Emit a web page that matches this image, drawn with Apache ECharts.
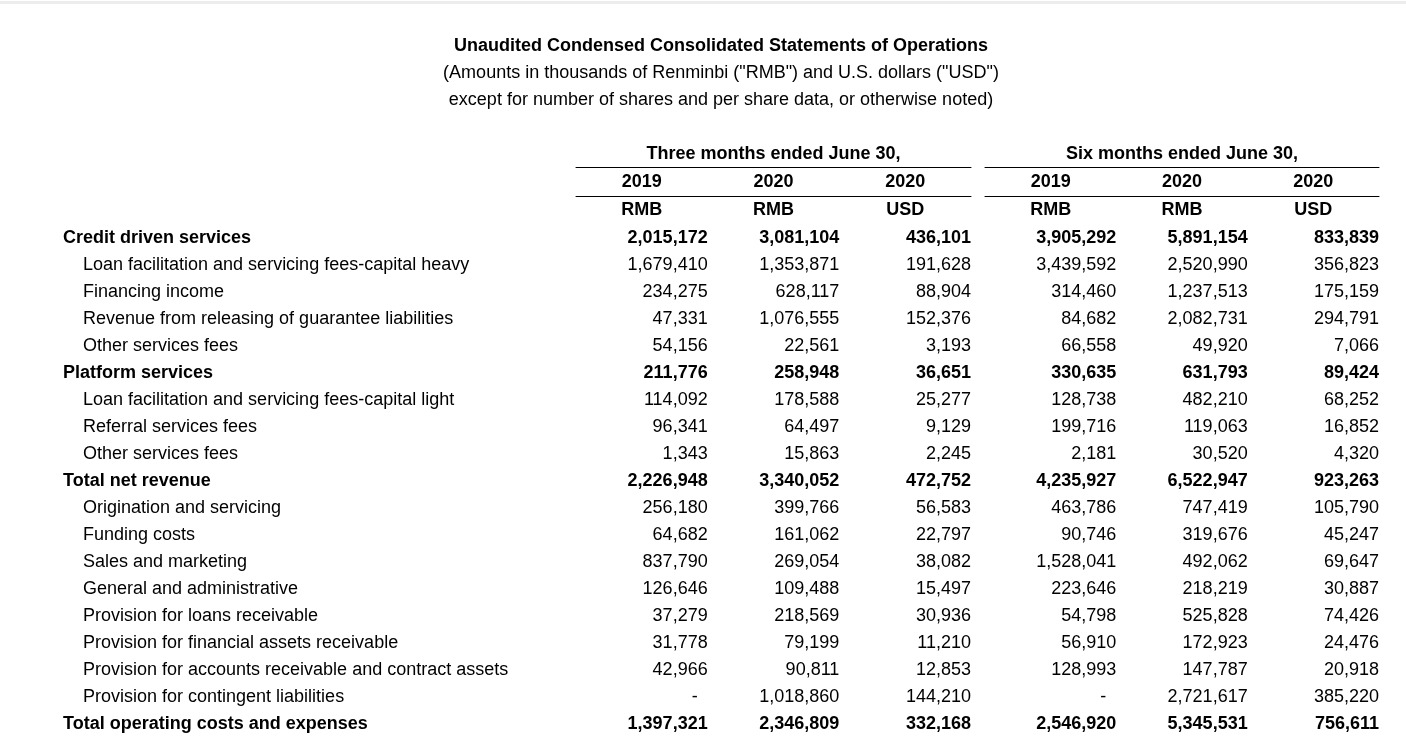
<!DOCTYPE html>
<html>
<head>
<meta charset="utf-8">
<script src="https://cdn.jsdelivr.net/npm/echarts@6/dist/echarts.min.js"></script>
<style>
html,body{margin:0;padding:0;background:#fff;}
#c{width:1406px;height:738px;}
</style>
</head>
<body>
<div id="c"></div>
<script>
// ---- data ----
const titleText = 'Unaudited Condensed Consolidated Statements of Operations';
const subtitleLines = ['(Amounts in thousands of Renminbi ("RMB") and U.S. dollars ("USD")', 'except for number of shares and per share data, or otherwise noted)'];
const groupTitles = ['Three months ended June 30,', 'Six months ended June 30,'];
const yearLabels = ['2019', '2020', '2020'];
const currencyLabels = ['RMB', 'RMB', 'USD'];

const rowNames = [
  'Credit driven services',
  'Loan facilitation and servicing fees-capital heavy',
  'Financing income',
  'Revenue from releasing of guarantee liabilities',
  'Other services fees',
  'Platform services',
  'Loan facilitation and servicing fees-capital light',
  'Referral services fees',
  'Other services fees',
  'Total net revenue',
  'Origination and servicing',
  'Funding costs',
  'Sales and marketing',
  'General and administrative',
  'Provision for loans receivable',
  'Provision for financial assets receivable',
  'Provision for accounts receivable and contract assets',
  'Provision for contingent liabilities',
  'Total operating costs and expenses'
];
const boldRows = [true, false, false, false, false, true, false, false, false, true, false, false, false, false, false, false, false, false, true];

const threeM2019Rmb = [2015172, 1679410, 234275, 47331, 54156, 211776, 114092, 96341, 1343, 2226948, 256180, 64682, 837790, 126646, 37279, 31778, 42966, null, 1397321];
const threeM2020Rmb = [3081104, 1353871, 628117, 1076555, 22561, 258948, 178588, 64497, 15863, 3340052, 399766, 161062, 269054, 109488, 218569, 79199, 90811, 1018860, 2346809];
const threeM2020Usd = [436101, 191628, 88904, 152376, 3193, 36651, 25277, 9129, 2245, 472752, 56583, 22797, 38082, 15497, 30936, 11210, 12853, 144210, 332168];
const sixM2019Rmb = [3905292, 3439592, 314460, 84682, 66558, 330635, 128738, 199716, 2181, 4235927, 463786, 90746, 1528041, 223646, 54798, 56910, 128993, null, 2546920];
const sixM2020Rmb = [5891154, 2520990, 1237513, 2082731, 49920, 631793, 482210, 119063, 30520, 6522947, 747419, 319676, 492062, 218219, 525828, 172923, 147787, 2721617, 5345531];
const sixM2020Usd = [833839, 356823, 175159, 294791, 7066, 89424, 68252, 16852, 4320, 923263, 105790, 45247, 69647, 30887, 74426, 24476, 20918, 385220, 756611];

// ---- chart ----
const FONT = "'Liberation Sans', Arial, Helvetica, sans-serif";
const FS = 18;
const INK = '#000';
const chart = echarts.init(document.getElementById('c'), null, {renderer: 'canvas'});

const groupData = [
  [threeM2019Rmb, threeM2020Rmb, threeM2020Usd],
  [sixM2019Rmb, sixM2020Rmb, sixM2020Usd]
];

function fmt(v) { return v.toLocaleString('en-US'); }

const GRID_TOP = 224.5, ROW_H = 27;
const grids = [
  {left: 63, top: GRID_TOP, width: 500, height: ROW_H * rowNames.length},
  {left: 576, top: GRID_TOP, width: 395, height: ROW_H * rowNames.length},
  {left: 985, top: GRID_TOP, width: 394, height: ROW_H * rowNames.length}
];

const xAxes = [];
const yAxes = [];
const series = [];

// grid 0: row labels
xAxes.push({gridIndex: 0, type: 'value', show: false, min: 0, max: 1});
yAxes.push({
  gridIndex: 0, type: 'category', inverse: true, data: rowNames,
  axisLine: {show: false}, axisTick: {show: false}, splitLine: {show: false},
  axisLabel: {
    align: 'left', margin: 0, interval: 0,
    formatter: function (v, i) { return boldRows[i] ? '{b|' + v + '}' : '{n|' + v + '}'; },
    rich: {
      b: {fontFamily: FONT, fontSize: FS, fontWeight: 'bold', color: INK},
      n: {fontFamily: FONT, fontSize: FS, color: INK, padding: [0, 0, 0, 20]}
    }
  }
});

const headStyle = {fontFamily: FONT, fontSize: FS, fontWeight: 'bold', color: INK};

for (let g = 0; g < 2; g++) {
  const gi = g + 1;
  const base = xAxes.length;
  // years axis with rule beneath
  xAxes.push({
    gridIndex: gi, type: 'category', position: 'top', offset: 28.5, data: yearLabels,
    axisLine: {show: true, lineStyle: {color: INK, width: 1}}, axisTick: {show: false},
    axisLabel: Object.assign({margin: 5, interval: 0}, headStyle)
  });
  // currency axis
  xAxes.push({
    gridIndex: gi, type: 'category', position: 'top', offset: 0, data: currencyLabels,
    axisLine: {show: false}, axisTick: {show: false},
    axisLabel: Object.assign({margin: 5, interval: 0}, headStyle)
  });
  // group title axis with rule beneath
  xAxes.push({
    gridIndex: gi, type: 'category', position: 'top', offset: 57.5, data: yearLabels,
    axisLine: {show: true, lineStyle: {color: INK, width: 1}}, axisTick: {show: false},
    axisLabel: {show: false},
    name: groupTitles[g], nameLocation: 'middle', nameGap: 4,
    nameTextStyle: headStyle
  });
  const yi = yAxes.length;
  yAxes.push({gridIndex: gi, type: 'category', inverse: true, data: rowNames, show: false});

  const cellHalf = grids[gi].width / 3 / 2;
  const data = [];
  groupData[g].forEach(function (col, c) {
    col.forEach(function (v, r) {
      data.push({
        value: [c, r],
        label: {
          formatter: v == null ? '{d|-}' : (boldRows[r] ? '{b|' + fmt(v) + '}' : '{n|' + fmt(v) + '}')
        }
      });
    });
  });
  series.push({
    type: 'scatter', xAxisIndex: base, yAxisIndex: yi,
    symbolSize: 0, silent: true, animation: false,
    itemStyle: {color: INK, opacity: 1},
    data: data,
    label: {
      show: true, position: 'inside', align: 'right', verticalAlign: 'middle',
      offset: [cellHalf, 0], color: INK, opacity: 1, textBorderWidth: 0,
      rich: {
        b: {fontFamily: FONT, fontSize: FS, fontWeight: 'bold', color: INK, textBorderWidth: 0},
        n: {fontFamily: FONT, fontSize: FS, color: INK, textBorderWidth: 0},
        d: {fontFamily: FONT, fontSize: FS, color: INK, textBorderWidth: 0, padding: [0, 10, 0, 0]}
      }
    }
  });
}

chart.setOption({
  backgroundColor: '#fff',
  animation: false,
  textStyle: {fontFamily: FONT},
  title: {
    text: titleText,
    subtext: subtitleLines.join('\n'),
    left: 716, top: 32, textAlign: 'center', itemGap: 5,
    textStyle: {fontFamily: FONT, fontSize: FS, fontWeight: 'bold', color: INK},
    subtextStyle: {fontFamily: FONT, fontSize: FS, color: INK, lineHeight: 27}
  },
  graphic: [
    {type: 'rect', left: 0, top: 1, shape: {width: 1406, height: 3}, style: {fill: '#ececec'}, silent: true}
  ],
  grid: grids,
  xAxis: xAxes,
  yAxis: yAxes,
  series: series
});
</script>
</body>
</html>
